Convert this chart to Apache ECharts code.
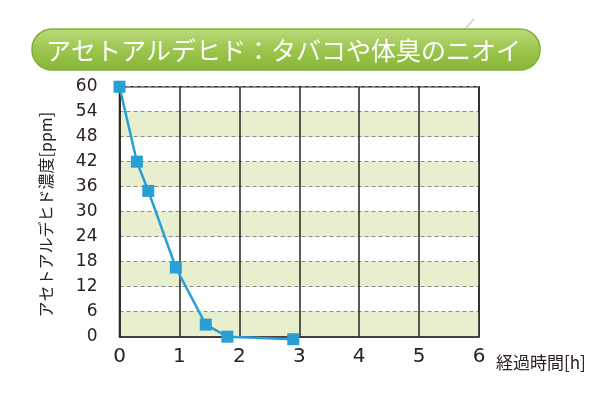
<!DOCTYPE html>
<html>
<head>
<meta charset="utf-8">
<script src="https://cdn.jsdelivr.net/npm/echarts@6/dist/echarts.min.js"></script>
<style>
  html, body { margin: 0; padding: 0; background: #fff; }
  #grafica { width: 606px; height: 403px; }
</style>
</head>
<body>
<div id="grafica"></div>
<script>
// datos
const titulo = "アセトアルデヒド：タバコや体臭のニオイ";
const horas = [0, 0.29, 0.48, 0.94, 1.44, 1.8, 2.9];
const ppm = [60, 42, 35, 16.6, 2.9, 0, -0.6];
const ticksX = [0, 1, 2, 3, 4, 5, 6];
const ticksY = [0, 6, 12, 18, 24, 30, 36, 42, 48, 54, 60];

const font = "'Noto Sans CJK JP', 'Noto Sans', sans-serif";
const fontNum = "'DejaVu Sans', sans-serif";
const oscuro = "#2b2220";

const getOptionChart = () => {
  return {
    animation: false,
    backgroundColor: "#fff",
    graphic: [
      {
        type: "line",
        shape: { x1: 465, y1: 29, x2: 474, y2: 19 },
        style: { stroke: "#d8d8d8", lineWidth: 2 },
      },
      {
        type: "rect",
        shape: { x: 32, y: 29, width: 508, height: 41, r: 20 },
        style: {
          fill: {
            type: "linear", x: 0, y: 0, x2: 0, y2: 1,
            colorStops: [
              { offset: 0, color: "#bcda7c" },
              { offset: 0.5, color: "#9cc64e" },
              { offset: 1, color: "#86b635" },
            ],
          },
          stroke: "#7fb03a",
          lineWidth: 1.5,
        },
      },
      {
        type: "text",
        x: 46,
        y: 50,
        style: {
          text: titulo,
          fill: "#fff",
          font: "25px " + font,
          verticalAlign: "middle",
        },
      },
    ],
    grid: {
      left: 119.5,
      right: 127,
      top: 86.7,
      bottom: 66.3,
      show: true,
      borderColor: oscuro,
      borderWidth: 1.5,
      backgroundColor: "transparent",
    },
    xAxis: {
      type: "value",
      min: ticksX[0],
      max: ticksX[ticksX.length - 1],
      interval: 1,
      name: "経過時間[h]",
      nameLocation: "end",
      nameGap: 17,
      nameTextStyle: {
        color: oscuro,
        fontSize: 17,
        fontFamily: font,
        verticalAlign: "top",
        padding: [17, 0, 0, 0],
      },
      axisLine: { show: true, lineStyle: { color: oscuro, width: 1.5 } },
      axisTick: { show: false },
      axisLabel: {
        color: oscuro,
        fontSize: 20,
        fontFamily: fontNum,
        margin: 10,
      },
      splitLine: { show: true, lineStyle: { color: oscuro, width: 1.5 } },
    },
    yAxis: {
      type: "value",
      min: ticksY[0],
      max: ticksY[ticksY.length - 1],
      interval: 6,
      name: "アセトアルデヒド濃度[ppm]",
      nameLocation: "middle",
      nameRotate: 90,
      nameGap: 66,
      nameTextStyle: {
        color: oscuro,
        fontSize: 16,
        fontFamily: font,
        padding: [0, 6, 0, 0],
      },
      axisLine: { show: true, lineStyle: { color: oscuro, width: 1.5 } },
      axisTick: { show: false },
      axisLabel: {
        color: oscuro,
        fontSize: 17,
        fontFamily: fontNum,
        margin: 22,
      },
      splitLine: {
        show: true,
        lineStyle: { color: "#8a8a8a", width: 1.2, type: [4, 3] },
      },
      splitArea: {
        show: true,
        areaStyle: { color: ["#e8efcf", "rgba(255,255,255,0)"] },
      },
    },
    series: [
      {
        type: "line",
        data: horas.map((h, i) => [h, ppm[i]]),
        clip: false,
        symbol: "rect",
        symbolSize: 12,
        itemStyle: { color: "#2a9fd6" },
        lineStyle: { color: "#2a9fd6", width: 2.5 },
        z: 5,
      },
    ],
  };
};

const initCharts = () => {
  const chart = echarts.init(document.querySelector("#grafica"));
  chart.setOption(getOptionChart());
};

initCharts();
</script>
</body>
</html>
